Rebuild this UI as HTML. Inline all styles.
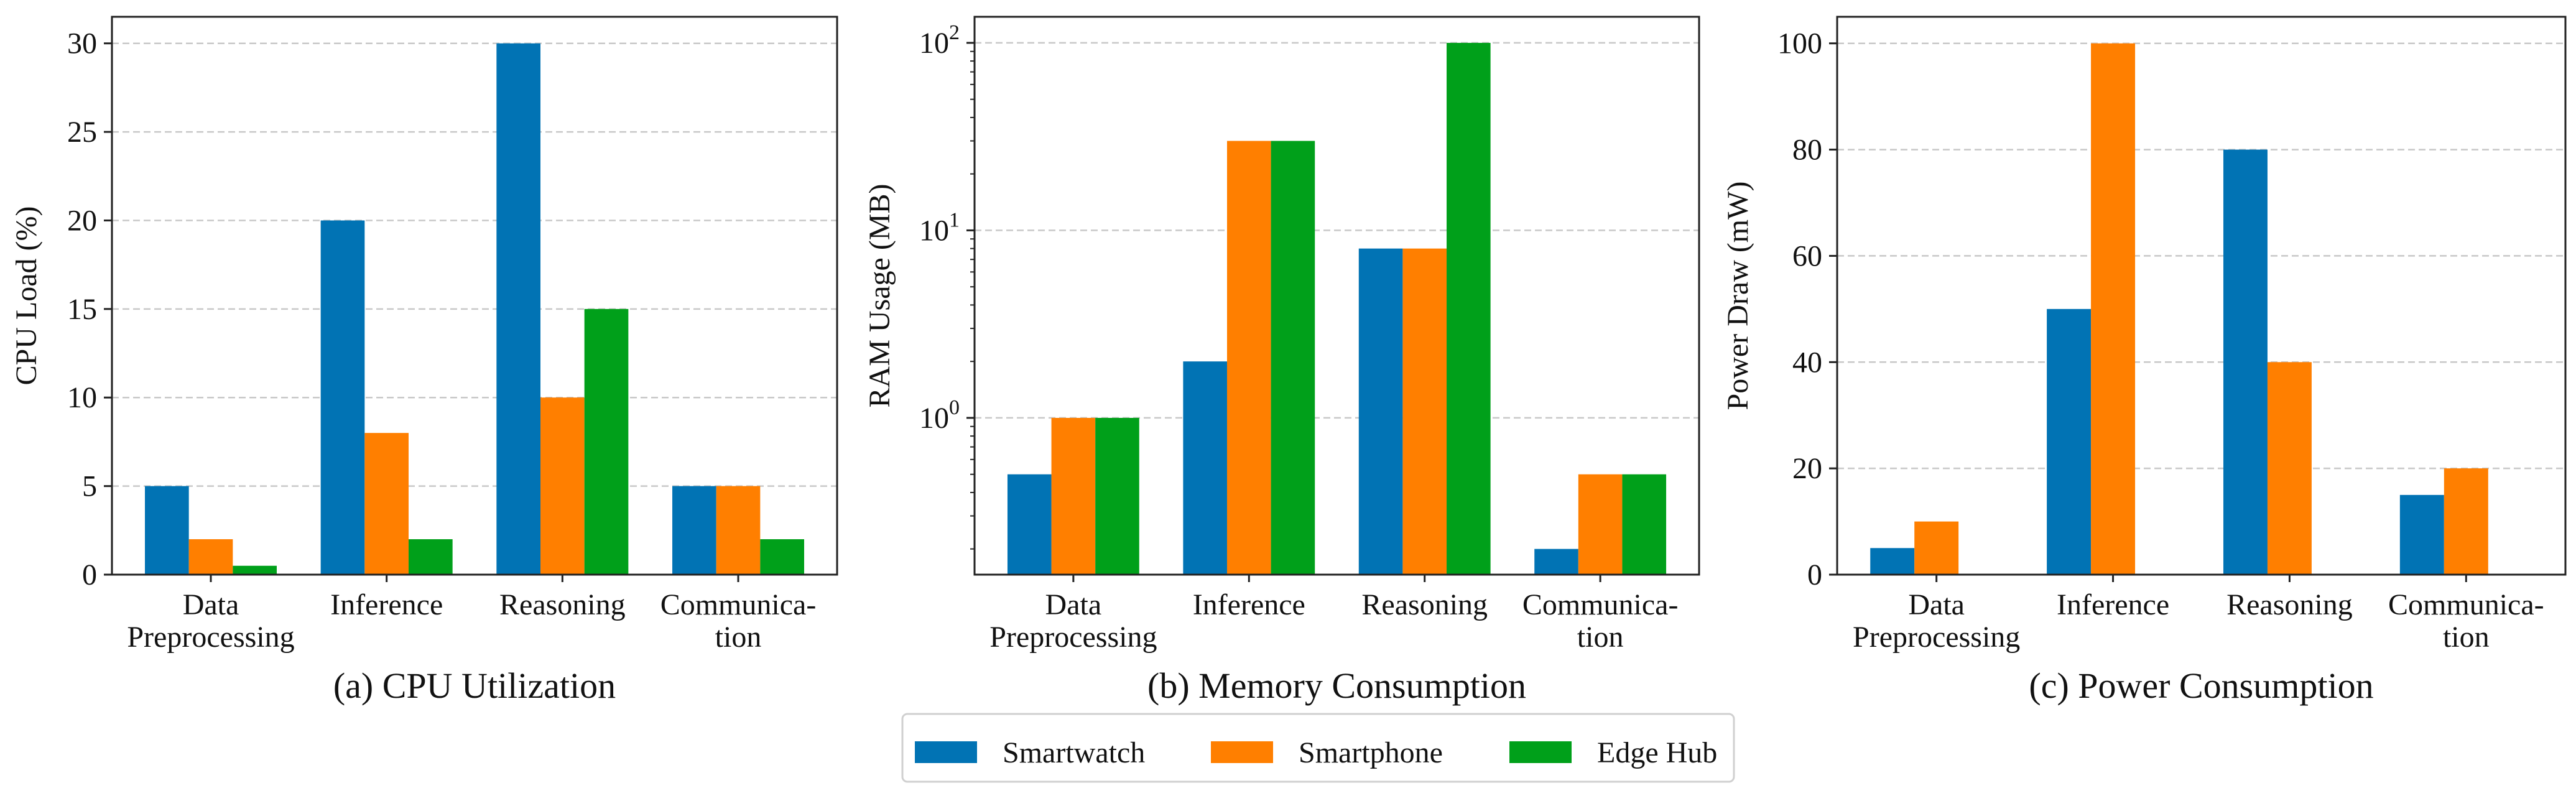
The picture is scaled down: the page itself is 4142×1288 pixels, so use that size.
<!DOCTYPE html>
<html><head><meta charset="utf-8"><style>
html,body{margin:0;padding:0;background:#fff;overflow:hidden;}
svg{display:block;font-family:"Liberation Serif","DejaVu Serif",serif;}
</style></head><body>
<svg id="fig" width="4142" height="1288" viewBox="0 0 4142 1288" xmlns="http://www.w3.org/2000/svg"></svg>
<script>
const categories = ["Data|Preprocessing", "Inference", "Reasoning", "Communica-|tion"];
const seriesNames = ["Smartwatch", "Smartphone", "Edge Hub"];
const cpuSmartwatch = [5, 20, 30, 5];
const cpuSmartphone = [2, 8, 10, 5];
const cpuEdgeHub = [0.5, 2, 15, 2];
const ramSmartwatch = [0.5, 2, 8, 0.2];
const ramSmartphone = [1, 30, 8, 0.5];
const ramEdgeHub = [1, 30, 100, 0.5];
const powSmartwatch = [5, 50, 80, 15];
const powSmartphone = [10, 100, 40, 20];
const powEdgeHub = [0, 0, 0, 0];
const cpuTicks = [0, 5, 10, 15, 20, 25, 30];
const powTicks = [0, 20, 40, 60, 80, 100];
const ramTicksExp = [0, 1, 2];

const colors = ["#0173b4", "#ff7f00", "#00a01a"];
const NS = "http://www.w3.org/2000/svg";
const svg = document.getElementById("fig");
function mk(tag, attrs, parent) {
  const e = document.createElementNS(NS, tag);
  for (const k in attrs) e.setAttribute(k, attrs[k]);
  (parent || svg).appendChild(e);
  return e;
}
const TOP = 27, BOT = 924;

function panel(cfg) {
  const g = mk("g", {});
  
  
  const L = cfg.left, R = cfg.right;
  const xmin = -0.5625, xmax = 3.5625;
  const xs = v => L + (v - xmin) / (xmax - xmin) * (R - L);
  let ys;
  if (cfg.log) {
    const lo = Math.log10(cfg.ymin), hi = Math.log10(cfg.ymax);
    ys = v => BOT - (Math.log10(v) - lo) / (hi - lo) * (BOT - TOP);
  } else {
    ys = v => BOT - (v - cfg.ymin) / (cfg.ymax - cfg.ymin) * (BOT - TOP);
  }
  cfg.ticks.forEach(t => {
    const y = ys(t);
    const gl = mk("line", {x1: L, x2: R, y1: y, y2: y, stroke: "#c8c8c8", "stroke-width": 2.5, "stroke-dasharray": "11,6"}, g);
    
    
  });
  const w = 0.25;
  cfg.series.forEach((s, si) => {
    s.forEach((v, ci) => {
      if (!(v > 0)) return;
      const x0 = xs(ci + (si - 1) * w - w / 2), x1 = xs(ci + (si - 1) * w + w / 2);
      const y = ys(v);
      const r = mk("rect", {x: x0, y: y, width: x1 - x0, height: BOT - y, fill: colors[si]}, g);
      
      
    });
  });
  const fr = mk("rect", {x: L, y: TOP, width: R - L, height: BOT - TOP, fill: "none", stroke: "#222", "stroke-width": 3}, g);
  
  
  cfg.ticks.forEach((t, i) => {
    const y = ys(t);
    mk("line", {x1: L - 13, x2: L, y1: y, y2: y, stroke: "#222", "stroke-width": 3}, g);
    const tx = mk("text", {x: L - 24, y: y + 16, "font-size": 48, "text-anchor": "end", fill: "#111"}, g);
    
    
    if (cfg.log) {
      tx.textContent = "10";
      const sup = mk("tspan", {dy: -22, "font-size": 34}, tx);
      sup.textContent = String(cfg.labels[i]);
    } else tx.textContent = cfg.labels[i];
  });
  if (cfg.log) {
    for (let e = -1; e <= 2; e++) for (let m = 2; m <= 9; m++) {
      const v = m * Math.pow(10, e);
      if (v < cfg.ymin || v > cfg.ymax) continue;
      const y = ys(v);
      mk("line", {x1: L - 7, x2: L, y1: y, y2: y, stroke: "#222", "stroke-width": 2}, g);
    }
  }
  categories.forEach((c, ci) => {
    const x = xs(ci);
    mk("line", {x1: x, x2: x, y1: BOT, y2: BOT + 12, stroke: "#222", "stroke-width": 3}, g);
    const parts = c.split("|");
    parts.forEach((p, pi) => {
      const t = mk("text", {x: x, y: 988 + pi * 52, "font-size": 48, "text-anchor": "middle", fill: "#111"}, g);
      
      
      t.textContent = p;
    });
  });
  const yl = mk("text", {x: 0, y: 0, "font-size": 48, "text-anchor": "middle", fill: "#111",
    transform: `translate(${cfg.ylx},${(TOP + BOT) / 2}) rotate(-90)`}, g);
  
  
  yl.textContent = cfg.ylabel;
  const st = mk("text", {x: (L + R) / 2, y: 1122, "font-size": 58, "text-anchor": "middle", fill: "#111"}, g);
  
  
  st.textContent = cfg.title;
}

panel({name: "cpu-panel", left: 180, right: 1346, ymin: 0, ymax: 31.5, ticks: cpuTicks, labels: cpuTicks.map(String),
  series: [cpuSmartwatch, cpuSmartphone, cpuEdgeHub], ylabel: "CPU Load (%)", ylx: 58, title: "(a) CPU Utilization"});
panel({name: "memory-panel", left: 1567, right: 2732, log: true, ymin: Math.pow(10, -0.836), ymax: Math.pow(10, 2.139),
  ticks: ramTicksExp.map(e => Math.pow(10, e)), labels: ramTicksExp,
  series: [ramSmartwatch, ramSmartphone, ramEdgeHub], ylabel: "RAM Usage (MB)", ylx: 1430, title: "(b) Memory Consumption"});
panel({name: "power-panel", left: 2954, right: 4125, ymin: 0, ymax: 105, ticks: powTicks, labels: powTicks.map(String),
  series: [powSmartwatch, powSmartphone, powEdgeHub], ylabel: "Power Draw (mW)", ylx: 2810, title: "(c) Power Consumption"});

const lg = mk("g", {});


mk("rect", {x: 1451, y: 1148, width: 1337, height: 109, rx: 8, fill: "#fff", stroke: "#d0d0d0", "stroke-width": 3}, lg);
const lx = [1471, 1947, 2427];
seriesNames.forEach((n, i) => {
  const e = mk("g", {}, lg);
  
  
  mk("rect", {x: lx[i], y: 1192, width: 100, height: 35, fill: colors[i]}, e);
  const t = mk("text", {x: lx[i] + 141, y: 1226, "font-size": 48, fill: "#111"}, e);
  t.textContent = n;
});
</script>
</body></html>
